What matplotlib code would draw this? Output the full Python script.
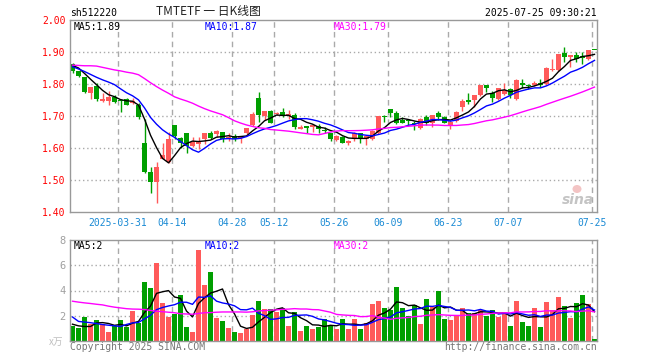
import matplotlib
matplotlib.use('Agg')
import matplotlib.pyplot as plt
import numpy as np
import pandas as pd
from matplotlib.patches import Ellipse

# daily bars, 2025-03-19 .. 2025-07-25 (sh512220)
opens = [1.864, 1.842, 1.823, 1.773, 1.795, 1.748, 1.746, 1.758, 1.750, 1.752,
         1.740, 1.735, 1.617, 1.525, 1.494, 1.567, 1.556, 1.672, 1.632, 1.647,
         1.607, 1.613, 1.627, 1.647, 1.644, 1.650, 1.630, 1.638, 1.632, 1.648,
         1.672, 1.757, 1.700, 1.717, 1.706, 1.712, 1.700, 1.704, 1.660, 1.669,
         1.665, 1.669, 1.654, 1.648, 1.625, 1.633, 1.617, 1.629, 1.646, 1.629,
         1.627, 1.648, 1.700, 1.721, 1.710, 1.687, 1.688, 1.679, 1.662, 1.696,
         1.679, 1.710, 1.698, 1.671, 1.685, 1.729, 1.749, 1.751, 1.766, 1.797,
         1.772, 1.753, 1.768, 1.784, 1.753, 1.803, 1.797, 1.797, 1.803, 1.799,
         1.843, 1.843, 1.897, 1.884, 1.891, 1.886, 1.878, 1.907]
closes = [1.842, 1.826, 1.775, 1.792, 1.754, 1.754, 1.758, 1.744, 1.746, 1.735,
          1.748, 1.698, 1.525, 1.494, 1.542, 1.579, 1.628, 1.638, 1.617, 1.607,
          1.618, 1.621, 1.647, 1.630, 1.653, 1.627, 1.635, 1.627, 1.637, 1.662,
          1.706, 1.703, 1.717, 1.679, 1.710, 1.700, 1.705, 1.667, 1.667, 1.663,
          1.671, 1.658, 1.652, 1.629, 1.637, 1.617, 1.621, 1.646, 1.629, 1.637,
          1.654, 1.700, 1.698, 1.710, 1.677, 1.677, 1.683, 1.675, 1.690, 1.677,
          1.702, 1.698, 1.679, 1.681, 1.712, 1.746, 1.745, 1.766, 1.797, 1.789,
          1.757, 1.786, 1.780, 1.766, 1.811, 1.797, 1.793, 1.803, 1.797, 1.851,
          1.847, 1.895, 1.884, 1.891, 1.878, 1.882, 1.907, 1.905]
highs = [1.867, 1.842, 1.823, 1.792, 1.802, 1.771, 1.779, 1.765, 1.752, 1.756,
         1.756, 1.742, 1.692, 1.542, 1.555, 1.617, 1.651, 1.672, 1.633, 1.647,
         1.633, 1.633, 1.647, 1.653, 1.656, 1.650, 1.648, 1.643, 1.637, 1.664,
         1.712, 1.775, 1.717, 1.719, 1.711, 1.725, 1.719, 1.708, 1.671, 1.669,
         1.673, 1.675, 1.667, 1.648, 1.640, 1.637, 1.625, 1.650, 1.646, 1.637,
         1.656, 1.700, 1.702, 1.723, 1.717, 1.698, 1.692, 1.685, 1.694, 1.702,
         1.704, 1.715, 1.700, 1.685, 1.717, 1.752, 1.772, 1.766, 1.797, 1.797,
         1.778, 1.788, 1.803, 1.786, 1.816, 1.816, 1.801, 1.809, 1.816, 1.853,
         1.878, 1.895, 1.916, 1.891, 1.901, 1.901, 1.907, 1.907]
lows = [1.833, 1.823, 1.771, 1.754, 1.746, 1.744, 1.735, 1.740, 1.711, 1.733,
        1.738, 1.690, 1.523, 1.460, 1.429, 1.565, 1.552, 1.627, 1.601, 1.585,
        1.604, 1.597, 1.611, 1.627, 1.633, 1.620, 1.622, 1.622, 1.617, 1.645,
        1.670, 1.680, 1.688, 1.677, 1.704, 1.696, 1.692, 1.660, 1.658, 1.646,
        1.650, 1.648, 1.646, 1.623, 1.623, 1.615, 1.610, 1.621, 1.615, 1.610,
        1.625, 1.644, 1.681, 1.698, 1.675, 1.677, 1.669, 1.656, 1.658, 1.673,
        1.667, 1.688, 1.677, 1.660, 1.681, 1.717, 1.739, 1.728, 1.763, 1.776,
        1.745, 1.751, 1.766, 1.755, 1.751, 1.789, 1.784, 1.795, 1.791, 1.797,
        1.841, 1.841, 1.870, 1.853, 1.870, 1.864, 1.874, 1.905]
# volume in x万
volumes = [1.16, 1.06, 1.90, 1.32, 1.69, 1.32, 0.71, 1.16, 1.69, 1.11,
           2.38, 1.43, 4.71, 4.20, 6.14, 3.02, 1.90, 2.17, 3.65, 1.11,
           0.71, 7.22, 4.44, 5.50, 1.85, 1.59, 1.06, 0.74, 0.63, 0.95,
           2.06, 3.17, 2.55, 2.50, 2.30, 2.62, 1.20, 2.30, 0.80, 1.15,
           0.95, 1.10, 1.75, 1.27, 0.95, 1.75, 0.95, 1.75, 0.95, 1.43,
           2.94, 3.17, 2.62, 2.46, 4.29, 2.62, 2.00, 2.86, 1.35, 3.33,
           2.70, 4.00, 1.75, 1.67, 2.06, 2.62, 2.22, 2.22, 2.46, 2.00,
           2.46, 1.90, 2.30, 1.19, 3.17, 1.50, 1.19, 2.62, 1.11, 3.10,
           2.46, 3.49, 2.78, 1.83, 3.02, 3.65, 2.94, 0.16]

date_labels = ['2025-03-31', '04-14', '04-28', '05-12', '05-26', '06-09', '06-23', '07-07', '07-25']
date_index = [8, 17, 27, 34, 44, 53, 63, 73, 87]

# MA values at the start of the chart, where the window reaches back before the first bar
ma5_head = [1.858, 1.850, 1.833, 1.815]
ma10_head = [1.854, 1.847, 1.839, 1.830, 1.821, 1.813, 1.806, 1.798, 1.785]
ma30_head = [1.859, 1.858, 1.857, 1.857, 1.856, 1.852, 1.848, 1.844, 1.841, 1.837,
             1.834, 1.829, 1.817, 1.804, 1.792, 1.781, 1.771, 1.760, 1.753, 1.747,
             1.740, 1.731, 1.723, 1.716, 1.710, 1.704, 1.695, 1.685, 1.678]
vol_ma5_head = [1.33, 1.20, 1.15, 1.15]
vol_ma10_head = [1.90, 1.55, 1.50, 1.45, 1.38, 1.30, 1.25, 1.20, 1.15]
vol_ma30_head = [3.15, 3.08, 3.02, 2.97, 2.91, 2.86, 2.76, 2.68, 2.62, 2.56,
                 2.53, 2.52, 2.49, 2.42, 2.36, 2.32, 2.28, 2.24, 2.16, 2.14,
                 2.12, 2.18, 2.24, 2.25, 2.28, 2.30, 2.30, 2.30, 2.30]

price_ma_text = ['MA5:1.89', 'MA10:1.87', 'MA30:1.79']
vol_ma_text = ['MA5:2', 'MA10:2', 'MA30:2']


def moving_average(values, n, head):
    ma = pd.Series(values, dtype=float).rolling(n).mean().to_numpy()
    ma[:len(head)] = head
    return ma


RED = '#ff5a5a'
GREEN = '#009f00'
GRID = '#aaaaaa'
MA_COLORS = ['black', '#0000ff', '#ff00ff']
MONO = 'DejaVu Sans Mono'
CJK = ['Noto Sans CJK SC', 'DejaVu Sans']
W, H = 660, 360

x = np.arange(len(closes))
o = np.array(opens)
c = np.array(closes)
colors = np.where(c >= o, RED, GREEN)

fig = plt.figure(figsize=(W / 100, H / 100), dpi=100)
ax = fig.add_axes([70 / W, 148 / H, 527 / W, 192 / H])
vax = fig.add_axes([70 / W, 19 / H, 527 / W, 101 / H])

for a in (ax, vax):
    a.set_xlim(-0.42, len(closes) - 1 + 0.42)
    for s in a.spines.values():
        s.set_color('#999999')
        s.set_linewidth(1)
    a.tick_params(length=0)
    for i in date_index:
        a.axvline(i - 0.42, color=GRID, lw=1, ls=(0, (4, 3)), zorder=1)

# price panel
ax.set_ylim(1.40, 2.00)
for yv in [1.5, 1.6, 1.7, 1.8, 1.9]:
    ax.axhline(yv, color=GRID, lw=1, ls=(0, (1, 2)), zorder=1)
ax.vlines(x, lows, highs, colors=colors, lw=1, zorder=2)
body = np.maximum(np.abs(c - o), 0.003)
ax.bar(x, body, bottom=np.minimum(o, c), width=0.82, color=colors, lw=0, zorder=2)

for n, head, col in zip([5, 10, 30], [ma5_head, ma10_head, ma30_head], MA_COLORS):
    ax.plot(x, moving_average(closes, n, head), color=col, lw=1, zorder=3)

yt = [1.4, 1.5, 1.6, 1.7, 1.8, 1.9, 2.0]
ax.set_yticks(yt)
ax.set_yticklabels(['%.2f' % v for v in yt], color='red', fontfamily=MONO, fontsize=7)
ax.set_xticks([i - 0.42 for i in date_index])
ax.set_xticklabels(date_labels, color='#1a8ad4', fontfamily=MONO, fontsize=7)
ax.tick_params(axis='y', pad=3)
ax.tick_params(axis='x', pad=4)

# volume panel
vax.set_ylim(0, 8)
for yv in [2, 4, 6]:
    vax.axhline(yv, color=GRID, lw=1, ls=(0, (1, 2)), zorder=1)
vax.bar(x, volumes, width=0.82, color=colors, lw=0, zorder=2)
for n, head, col in zip([5, 10, 30], [vol_ma5_head, vol_ma10_head, vol_ma30_head], MA_COLORS):
    vax.plot(x, moving_average(volumes, n, head), color=col, lw=1, zorder=3)
vax.set_yticks([2, 4, 6, 8])
vax.set_yticklabels(['2', '4', '6', '8'], color='#a0a0a0', fontfamily=MONO, fontsize=7.5)
vax.set_xticks([])
vax.tick_params(axis='y', pad=3)


def ftext(px, py, s, **kw):
    kw.setdefault('fontfamily', MONO)
    kw.setdefault('fontsize', 7)
    kw.setdefault('va', 'center')
    fig.text(px / W, 1 - py / H, s, **kw)


# header
ftext(70, 13, 'sh512220', color='black')
ftext(208, 12, 'TMTETF 一 日K线图', ha='center', color='#222222', fontfamily=CJK, fontsize=8.5)
ftext(597, 13, '2025-07-25 09:30:21', ha='right', color='black')

for px, t, col in zip([74, 205, 334], price_ma_text, MA_COLORS):
    ftext(px, 27, t, color=col)
for px, t, col in zip([74, 205, 334], vol_ma_text, MA_COLORS):
    ftext(px, 246, t, color=col)

ftext(63, 342, 'x万', ha='right', color='#c0c0c0', fontfamily=CJK, fontsize=7)
ftext(70, 347, 'Copyright 2025 SINA.COM', color='#777777')
ftext(597, 347, 'http://finance.sina.com.cn', ha='right', color='#777777')

# sina watermark
fig.patches.append(Ellipse((577 / W, 1 - 189 / H), 9 / W, 8 / H, transform=fig.transFigure,
                           facecolor='#f3c4c4', edgecolor='none'))
ftext(578, 200, 'sina', ha='center', color='#c4c4c4', fontfamily='DejaVu Sans',
      fontsize=10, fontweight='bold', fontstyle='italic')

fig.savefig('out.png', dpi=100)
